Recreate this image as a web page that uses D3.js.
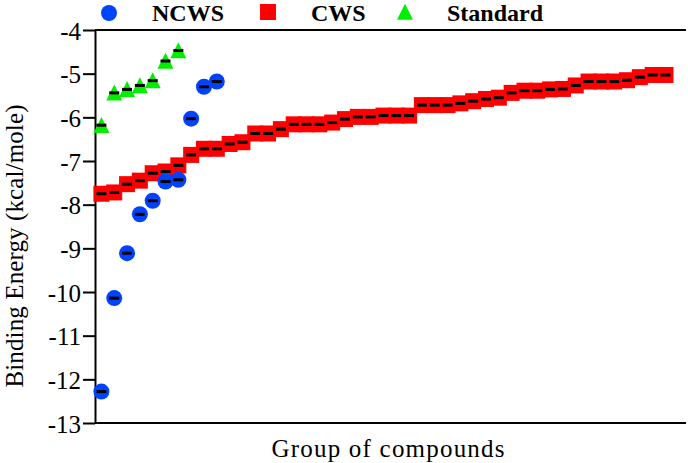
<!DOCTYPE html>
<html>
<head>
<meta charset="utf-8">
<script src="https://cdn.jsdelivr.net/npm/d3@7"></script>
<style>
html,body{margin:0;padding:0;background:#fff;}
svg{display:block;font-family:"Liberation Serif","Times New Roman",serif;}
</style>
</head>
<body>
<svg id="chart" width="688" height="463"></svg>
<script>
// ---- data ----
const seriesNames = ["NCWS", "CWS", "Standard"];
const ncwsValues = [-12.28, -10.14, -9.11, -8.22, -7.91, -7.47, -7.43, -6.03, -5.30, -5.18];
const cwsValues = [-7.75, -7.72, -7.53, -7.45, -7.28, -7.24, -7.10, -6.86, -6.72, -6.72,
  -6.61, -6.57, -6.37, -6.37, -6.27, -6.16, -6.16, -6.16, -6.12, -6.04,
  -5.99, -5.99, -5.96, -5.96, -5.96, -5.72, -5.72, -5.72, -5.68, -5.63,
  -5.58, -5.55, -5.44, -5.39, -5.39, -5.36, -5.35, -5.27, -5.18, -5.18,
  -5.18, -5.15, -5.08, -5.03, -5.03];
const standardValues = [-6.18, -5.44, -5.36, -5.27, -5.16, -4.71, -4.47];
const yTicks = [-13, -12, -11, -10, -9, -8, -7, -6, -5, -4];
const xTitle = "Group of compounds";
const yTitle = "Binding Energy (kcal/mole)";

// ---- layout ----
const svg = d3.select("#chart");
const mLeft = 95, mRight = 686, mTop = 30, mBottom = 423;
const x = d3.scaleLinear().domain([-0.5, 45.6]).range([mLeft, mRight]);
const y = d3.scaleLinear().domain([-13, -4]).range([mBottom, mTop]);

const colors = {NCWS: "#0043ff", CWS: "#ff0000", Standard: "#00ee00"};

// frame lines
svg.append("line").attr("x1", mLeft).attr("x2", mRight).attr("y1", mTop).attr("y2", mTop)
  .attr("stroke", "#000").attr("stroke-width", 2);
svg.append("line").attr("x1", mLeft).attr("x2", mRight).attr("y1", mBottom).attr("y2", mBottom)
  .attr("stroke", "#000").attr("stroke-width", 2);

// y axis
const yAxis = d3.axisLeft(y).tickValues(yTicks).tickSize(12).tickSizeOuter(0).tickPadding(2)
  .tickFormat(d => "-" + Math.abs(d));
const ga = svg.append("g").attr("transform", `translate(${mLeft},0)`).call(yAxis);
ga.select(".domain").attr("stroke", "#000").attr("stroke-width", 2);
ga.selectAll(".tick line").attr("stroke", "#000").attr("stroke-width", 2);
ga.selectAll(".tick text").attr("font-family", "Liberation Serif, serif")
  .attr("font-size", 25).attr("fill", "#000").attr("dy", "0.36em");

// symbols
const triPath = "M0,-8.3L8,7.7L-8,7.7Z";
function dash(g, cx, cy) {
  g.append("rect").attr("x", cx - 5).attr("y", cy - 1.5).attr("width", 10).attr("height", 3).attr("fill", "#000");
}

// CWS squares
const gC = svg.append("g");
cwsValues.forEach((v, i) => {
  gC.append("rect").attr("x", x(i) - 8).attr("y", y(v) - 8).attr("width", 16).attr("height", 16)
    .attr("fill", colors.CWS);
});
cwsValues.forEach((v, i) => dash(gC, x(i), y(v)));

// Standard triangles
const gS = svg.append("g");
standardValues.forEach((v, i) => {
  gS.append("path").attr("d", triPath).attr("transform", `translate(${x(i)},${y(v)})`).attr("fill", colors.Standard);
});
standardValues.forEach((v, i) => dash(gS, x(i), y(v)));

// NCWS circles
const gN = svg.append("g");
ncwsValues.forEach((v, i) => {
  gN.append("circle").attr("cx", x(i)).attr("cy", y(v)).attr("r", 8).attr("fill", colors.NCWS);
});
ncwsValues.forEach((v, i) => dash(gN, x(i), y(v)));

// legend
const lg = svg.append("g");
lg.append("circle").attr("cx", 109).attr("cy", 13).attr("r", 8).attr("fill", colors.NCWS);
lg.append("rect").attr("x", 260).attr("y", 4).attr("width", 16).attr("height", 16).attr("fill", colors.CWS);
lg.append("path").attr("d", triPath).attr("transform", "translate(405,12)").attr("fill", colors.Standard);
const legX = [152, 311, 447];
seriesNames.forEach((n, i) => {
  lg.append("text").attr("x", legX[i]).attr("y", 21).attr("font-size", 24).attr("font-weight", "bold")
    .attr("font-family", "Liberation Serif, serif").attr("fill", "#000").text(n);
});

// axis titles
svg.append("text").attr("x", 388).attr("y", 457).attr("text-anchor", "middle")
  .attr("font-size", 25).attr("textLength", 233).attr("lengthAdjust", "spacing").text(xTitle);
svg.append("text").attr("transform", "translate(23,246) rotate(-90)").attr("text-anchor", "middle")
  .attr("font-size", 25).attr("textLength", 283).attr("lengthAdjust", "spacing").text(yTitle);
</script>
</body>
</html>
